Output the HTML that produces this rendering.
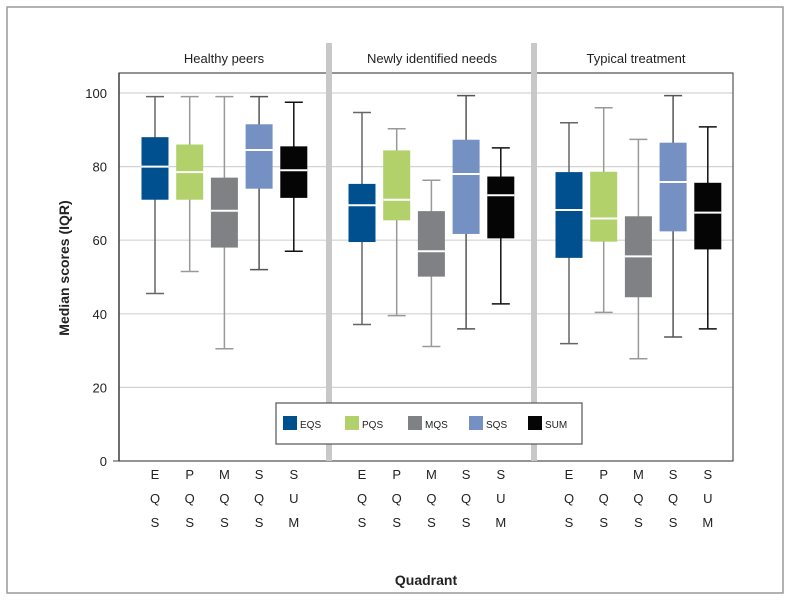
<!DOCTYPE html>
<html><head><meta charset="utf-8"><style>
body{margin:0;background:#fff;}
svg{display:block;font-family:"Liberation Sans",Arial,sans-serif;}
</style></head><body>
<svg id="chart" width="791" height="600"></svg>
<script>
const panels = ["Healthy peers","Newly identified needs","Typical treatment"];
const series = ["EQS","PQS","MQS","SQS","SUM"];
const whiskerHigh = [[99,99,99,99,97.5],[94.7,90.3,76.3,99.3,85.1],[91.9,96,87.4,99.3,90.8]];
const q3Values = [[88,86,77,91.5,85.5],[75.3,84.4,67.9,87.3,77.3],[78.5,78.6,66.5,86.5,75.6]];
const medianValues = [[80,78.5,68,84.5,79],[69.5,71,57,78,72.2],[68.2,65.9,55.6,75.8,67.5]];
const q1Values = [[71,71,58,74,71.5],[59.5,65.4,50.1,61.7,60.5],[55.2,59.6,44.5,62.4,57.5]];
const whiskerLow = [[45.5,51.5,30.5,52,57],[37.1,39.5,31.1,35.9,42.7],[31.9,40.4,27.8,33.7,35.9]];
const yTicks = [0,20,40,60,80,100];
const fills = ["#00508f","#b2d16a","#808184","#7591c4","#050505"];
const whiskerColors = ["#666","#999","#999","#555","#111"];

const NS="http://www.w3.org/2000/svg";
const svg=document.getElementById('chart');
function mk(tag,attrs,parent){const e=document.createElementNS(NS,tag);for(const k in attrs)e.setAttribute(k,attrs[k]);(parent||svg).appendChild(e);return e;}
const x0=119,x1=733,yTop=73,yBot=461;
function y(v){return 461-v*3.68;}
const panelStart=[119,326,533];
function xPos(p,s){return panelStart[p]+36+s*34.7;}

let e;
e=mk('rect',{x:7,y:7,width:776,height:586,fill:'none',stroke:'#999','stroke-width':1.5});



yTicks.forEach(t=>{
  if(t>0){e=mk('line',{x1:x0,x2:x1,y1:y(t),y2:y(t),stroke:'#d3d3d3','stroke-width':1.2});
  
  }
  e=mk('text',{x:107,y:y(t)+5,'text-anchor':'end','font-size':13,fill:'#222'});e.textContent=t;
  
  
});
e=mk('line',{x1:113,x2:119,y1:461,y2:461,stroke:'#444'});


e=mk('path',{d:`M${x0} ${yTop}H${x1}V${yBot}H${x0}Z`,fill:'none',stroke:'#555','stroke-width':1.2});


e=mk('line',{x1:x0,x2:x0,y1:yTop,y2:yBot,stroke:'#333','stroke-width':1.3});



[329,534].forEach((sx,i)=>{
  e=mk('rect',{x:sx-3,y:43,width:6,height:yBot-43,fill:'#c8c8c8'});
  
  
});

panels.forEach((name,p)=>{
  e=mk('text',{x:[224,432,636][p],y:63,'text-anchor':'middle','font-size':13,fill:'#222'});e.textContent=name;
  
  
  series.forEach((s,i)=>{
    const cx=xPos(p,i),w=27;
    const g=mk('g',{});
    
    
    const wc=whiskerColors[i];
    mk('line',{x1:cx,x2:cx,y1:y(whiskerHigh[p][i]),y2:y(whiskerLow[p][i]),stroke:wc,'stroke-width':1.5},g);
    mk('line',{x1:cx-9,x2:cx+9,y1:y(whiskerHigh[p][i]),y2:y(whiskerHigh[p][i]),stroke:wc,'stroke-width':1.5},g);
    mk('line',{x1:cx-9,x2:cx+9,y1:y(whiskerLow[p][i]),y2:y(whiskerLow[p][i]),stroke:wc,'stroke-width':1.5},g);
    mk('rect',{x:cx-w/2,y:y(q3Values[p][i]),width:w,height:y(q1Values[p][i])-y(q3Values[p][i]),fill:fills[i]},g);
    mk('line',{x1:cx-w/2,x2:cx+w/2,y1:y(medianValues[p][i]),y2:y(medianValues[p][i]),stroke:'#fff','stroke-width':2},g);
    const chars=s.split('');
    chars.forEach((c,k)=>{
      const t=mk('text',{x:cx,y:479+k*24,'text-anchor':'middle','font-size':13,fill:'#222'});t.textContent=c;
      
      
    });
  });
});

const lg=mk('g',{});


mk('rect',{x:276,y:403,width:306,height:41,fill:'#fff',stroke:'#555','stroke-width':1.2},lg);
const legX=[290,352,415,476,535];
series.forEach((s,i)=>{
  const it=mk('g',{},lg);
  
  
  mk('rect',{x:legX[i]-7,y:416,width:14,height:14,fill:fills[i]},it);
  const t=mk('text',{x:legX[i]+10,y:428,'font-size':10,fill:'#222'},it);t.textContent=s;
});

e=mk('text',{x:426,y:585,'text-anchor':'middle','font-size':14,'font-weight':'bold',fill:'#222'});e.textContent='Quadrant';


e=mk('text',{x:0,y:0,'text-anchor':'middle','font-size':14,'font-weight':'bold',fill:'#222',transform:'translate(69,268) rotate(-90)'});e.textContent='Median scores (IQR)';


</script>
</body></html>
